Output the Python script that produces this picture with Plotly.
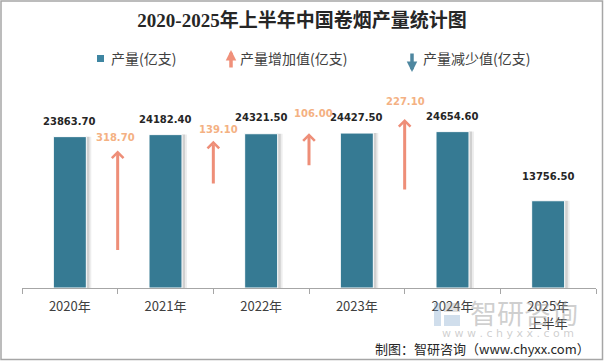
import plotly.graph_objects as go

# ---------------- data ----------------
years = ["2020年", "2021年", "2022年", "2023年", "2024年", "2025年<br>上半年"]
output = [23863.70, 24182.40, 24321.50, 24427.50, 24654.60, 13756.50]   # 产量(亿支)
increase = [318.70, 139.10, 106.00, 227.10]                              # 产量增加值(亿支), between consecutive years

# ---------------- layout constants ----------------
W, H = 604, 361
L, R, T, B = 22, 8, 66, 73
PW, PH = W - L - R, H - T - B

def px(x):
    return (x - L) / PW

def py(y):
    return (H - B - y) / PH

BAR = "#367A93"
ARROW = "#EE8E78"
LABEL_ORANGE = "#F4B183"
TXT = "#262626"
CJK = "Noto Sans CJK SC"
NUM = "DejaVu Sans"

arrow_tail = [115, 325, 382, 306]          # arrow start on the helper axis (y2)
inc_xshift = [-2, 5, 4, 1]
inc_yshift = [5, 4, 12, 10]
bar_yshift = [8, 8, 9, 8, 8, 17]
BW = 0.345

fig = go.Figure()

# soft shadow behind bars
for off, alpha in [(0.052, 0.07), (0.032, 0.12)]:
    fig.add_trace(go.Bar(x=years, y=output, width=BW, offset=-BW / 2 + off,
                         marker=dict(color=f"rgba(0,0,0,{alpha})", line=dict(width=0)),
                         hoverinfo="skip", showlegend=False))
fig.add_trace(go.Bar(x=years, y=output, width=BW, offset=-BW / 2,
                     marker=dict(color=BAR, line=dict(color="white", width=1)),
                     name="产量(亿支)", showlegend=False))
# helper trace for the secondary axis used by the arrows
fig.add_trace(go.Scatter(x=[years[0]], y=[0], yaxis="y2", mode="markers",
                         marker=dict(opacity=0), hoverinfo="skip", showlegend=False))

# bar value labels
for i, v in enumerate(output):
    fig.add_annotation(x=years[i], y=v, xref="x", yref="y", text=f"<b>{v:.2f}</b>",
                       showarrow=False, yanchor="bottom", yshift=bar_yshift[i],
                       font=dict(family=NUM, size=10, color=TXT))

# increase arrows + labels
for i, d in enumerate(increase):
    base = arrow_tail[i]
    fig.add_annotation(x=i + 0.5, y=base + d, xref="x", yref="y2",
                       ax=i + 0.5, ay=base, axref="x", ayref="y2", text="",
                       showarrow=True, arrowhead=4, arrowsize=0.75, arrowwidth=3,
                       arrowcolor=ARROW, standoff=0, startstandoff=0)
    fig.add_annotation(x=i + 0.5, y=base + d, xref="x", yref="y2", text=f"<b>{d:.2f}</b>",
                       showarrow=False, yanchor="bottom", yshift=inc_yshift[i],
                       xshift=inc_xshift[i],
                       font=dict(family=NUM, size=10, color=LABEL_ORANGE))

# ---------------- custom legend ----------------
shapes = [
    dict(type="rect", xref="paper", yref="paper", x0=px(97), x1=px(104), y0=py(62), y1=py(55),
         fillcolor="#3F86A2", line=dict(width=0)),
    # outer border
    dict(type="rect", xref="paper", yref="paper", x0=px(1), x1=px(602.5), y0=py(359.5), y1=py(1),
         line=dict(color="#A6A6A6", width=1.5), fillcolor="rgba(0,0,0,0)"),
    # watermark logo
    dict(type="rect", xref="paper", yref="paper", x0=px(434), x1=px(441), y0=py(326), y1=py(303),
         fillcolor="rgba(120,160,200,0.35)", line=dict(width=0)),
    dict(type="rect", xref="paper", yref="paper", x0=px(444), x1=px(460), y0=py(326), y1=py(315),
         fillcolor="rgba(120,160,200,0.35)", line=dict(width=0)),
    dict(type="rect", xref="paper", yref="paper", x0=px(444), x1=px(460), y0=py(312), y1=py(303),
         fillcolor="rgba(150,150,150,0.3)", line=dict(width=0)),
]
legend_font = dict(family=CJK, size=14, color="#404040")
fig.add_annotation(x=px(109), y=py(58), xref="paper", yref="paper", text="产量(亿支)",
                   showarrow=False, xanchor="left", yanchor="middle", font=legend_font)
fig.add_annotation(x=px(238), y=py(58), xref="paper", yref="paper", text="产量增加值(亿支)",
                   showarrow=False, xanchor="left", yanchor="middle", font=legend_font)
fig.add_annotation(x=px(421), y=py(58), xref="paper", yref="paper", text="产量减少值(亿支)",
                   showarrow=False, xanchor="left", yanchor="middle", font=legend_font)
fig.add_annotation(x=px(231), y=py(50), ax=0, ay=19, xref="paper", yref="paper",
                   axref="pixel", ayref="pixel", text="", showarrow=True, arrowhead=2,
                   arrowsize=0.6, arrowwidth=3.5, arrowcolor="#F0907A", standoff=0)
fig.add_annotation(x=px(412), y=py(72), ax=0, ay=-20, xref="paper", yref="paper",
                   axref="pixel", ayref="pixel", text="", showarrow=True, arrowhead=2,
                   arrowsize=0.6, arrowwidth=3.5, arrowcolor="#4E87A0", standoff=0)

# watermark + source
fig.add_annotation(x=px(524), y=py(312), xref="paper", yref="paper", text="智研咨询",
                   showarrow=False, xanchor="center", yanchor="middle",
                   font=dict(family=CJK, size=27, color="rgba(160,160,160,0.5)"))
fig.add_annotation(x=px(508), y=py(333), xref="paper", yref="paper",
                   text="w w w . c h y x x . c o m", showarrow=False,
                   xanchor="center", yanchor="middle",
                   font=dict(family=NUM, size=11, color="rgba(160,160,160,0.5)"))
fig.add_annotation(x=px(592), y=py(348), xref="paper", yref="paper",
                   text="制图：智研咨询（www.chyxx.com）", showarrow=False, xanchor="right",
                   yanchor="middle", font=dict(family=CJK, size=13, color=TXT))

fig.update_layout(
    width=W, height=H,
    margin=dict(l=L, r=R, t=T, b=B),
    paper_bgcolor="white", plot_bgcolor="white",
    barmode="overlay",
    title=dict(text="<b>2020-2025年上半年中国卷烟产量统计图</b>", x=0.5, xanchor="center",
               y=1 - 20 / H, yanchor="middle",
               font=dict(family="Liberation Serif, " + CJK, size=19, color=TXT)),
    xaxis=dict(type="category", range=[-0.5, 5.5], tickson="boundaries", ticks="outside",
               ticklen=5, tickcolor="#A6A6A6", showline=True, linecolor="#A6A6A6",
               linewidth=1, showgrid=False, zeroline=False, automargin=False,
               ticklabelstandoff=6,
               tickfont=dict(family=CJK, size=13, color="#404040")),
    yaxis=dict(range=[0, 35000], visible=False, showgrid=False),
    yaxis2=dict(range=[0, 700], overlaying="y", visible=False, showgrid=False),
    shapes=shapes,
    showlegend=False,
)

fig.write_html("out.html", config={"displayModeBar": False},
               post_script="document.body.style.margin='0';document.body.style.overflow='hidden';")
